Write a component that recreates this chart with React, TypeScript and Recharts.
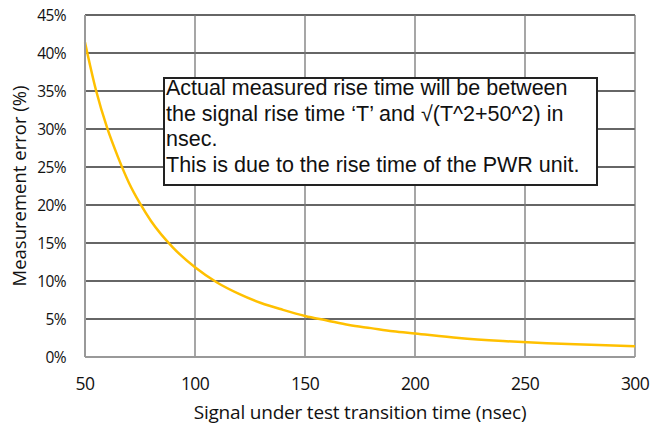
import { LineChart, Line, XAxis, YAxis, CartesianGrid, Label } from "recharts";

const transitionTimes = [50, 55, 60, 65, 70, 75, 80, 90, 100, 110, 120, 130, 140, 150, 160, 170, 180, 190, 200, 220, 240, 260, 280, 300];
const errorPct = [41.4, 35.1, 30.2, 26.3, 22.9, 20.2, 17.9, 14.4, 11.8, 9.8, 8.3, 7.1, 6.2, 5.4, 4.8, 4.2, 3.8, 3.4, 3.1, 2.5, 2.1, 1.8, 1.6, 1.4];
const xTicks = [50, 100, 150, 200, 250, 300];
const yTicks = [0, 5, 10, 15, 20, 25, 30, 35, 40, 45];
const noteLines = [
  "Actual measured rise time will be between",
  "the signal rise time \u2018T\u2019 and \u221A(T^2+50^2) in",
  "nsec.",
  "This is due to the rise time of the PWR unit.",
];

const data = transitionTimes.map((t, i) => ({ t, err: errorPct[i] }));

const sans = { fontFamily: "'Open Sans', sans-serif", fill: "#111" };

const YTitle = ({ viewBox }: any) => {
  const cy = viewBox.y + viewBox.height / 2;
  return (
    <text
      x={18}
      y={cy}
      transform={`rotate(-90, 18, ${cy})`}
      textAnchor="middle"
      dominantBaseline="central"
      fontFamily="'Open Sans', sans-serif"
      fontSize={18.5}
      fill="#111"
    >
      Measurement error (%)
    </text>
  );
};

const App = () => {
  return (
    <div style={{ position: "absolute", left: 0, top: 0, width: 665, height: 434, background: "#fff" }}>
      <LineChart width={665} height={434} data={data} margin={{ top: 15, right: 30, left: 0, bottom: 0 }}>
        <CartesianGrid vertical={false} stroke="#333" strokeWidth={1.3} />
        <CartesianGrid horizontal={false} stroke="#777" strokeWidth={1.3} />
        <XAxis
          dataKey="t"
          type="number"
          domain={[50, 300]}
          ticks={xTicks}
          height={77}
          axisLine={{ stroke: "#999", strokeWidth: 2 }}
          tickLine={false}
          tickSize={0}
          tickMargin={21}
          tick={{ ...sans, fontSize: 17.5, letterSpacing: -0.6 }}
          label={{
            value: "Signal under test transition time (nsec)",
            position: "insideBottom",
            offset: 15,
            style: { ...sans, fontSize: 19, textAnchor: "middle", letterSpacing: -0.2 },
          }}
        />
        <YAxis
          type="number"
          domain={[0, 45]}
          ticks={yTicks}
          width={85}
          axisLine={{ stroke: "#999", strokeWidth: 2 }}
          tickLine={false}
          tickSize={0}
          tickMargin={19}
          tickFormatter={(v: number) => `${v}%`}
          tick={{ ...sans, fontSize: 15.5, letterSpacing: -0.6 }}
        >
          <Label content={<YTitle />} />
        </YAxis>
        <Line
          dataKey="err"
          type="monotone"
          stroke="#FFC000"
          strokeWidth={2.5}
          dot={false}
          isAnimationActive={false}
        />
      </LineChart>
      <div
        style={{
          position: "absolute",
          left: 163,
          top: 77,
          width: 430,
          height: 105,
          border: "2px solid #222",
          background: "#fff",
          fontFamily: "'Liberation Sans', Arial, sans-serif",
          fontSize: 21.5,
          lineHeight: "25.5px",
          color: "#111",
          paddingLeft: 1,
          boxSizing: "content-box",
          overflow: "hidden",
        }}
      >
        <div style={{ marginTop: -3 }}>
          {noteLines.map((l) => (
            <div key={l} style={{ whiteSpace: "nowrap" }}>{l}</div>
          ))}
        </div>
      </div>
    </div>
  );
};

export default App;
